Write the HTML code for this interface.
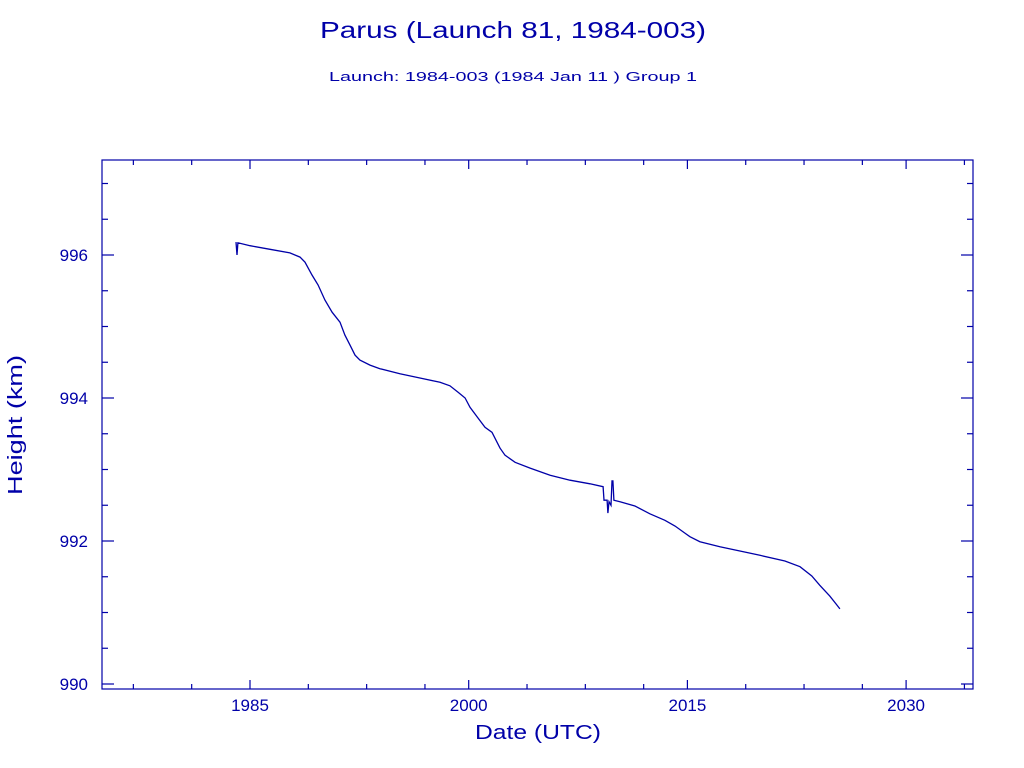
<!DOCTYPE html>
<html><head><meta charset="utf-8"><style>
body{margin:0;background:#fff}
svg{display:block}
text{font-family:"Liberation Sans",sans-serif;fill:#0000a8}
</style></head><body>
<svg id="chart" width="1024" height="768" xmlns="http://www.w3.org/2000/svg">
<text x="513" y="38" text-anchor="middle" font-size="23" textLength="386" lengthAdjust="spacingAndGlyphs">Parus (Launch 81, 1984-003)</text>
<text x="513" y="81" text-anchor="middle" font-size="13" textLength="368" lengthAdjust="spacingAndGlyphs">Launch: 1984-003  (1984 Jan 11 )  Group 1</text>
<rect x="102" y="160" width="871" height="529" fill="none" stroke="#0000a8" stroke-width="1.2"/>
<g id="axes"></g>
<path id="series" fill="none" stroke="#0000a8" stroke-width="1.3"/>
<text x="538" y="739" text-anchor="middle" font-size="20" textLength="126" lengthAdjust="spacingAndGlyphs">Date (UTC)</text>
<text transform="translate(22,425) rotate(-90)" text-anchor="middle" font-size="20" textLength="140" lengthAdjust="spacingAndGlyphs">Height (km)</text>
</svg>
<script>
const years=[1984.04,1984.11,1984.17,1985.00,1986.37,1987.74,1988.43,1988.77,1989.25,1989.67,1990.14,1990.63,1991.17,1991.51,1991.86,1992.20,1992.54,1993.23,1993.91,1995.28,1996.65,1998.03,1998.71,1999.27,1999.75,2000.09,2000.64,2001.12,2001.60,2002.15,2002.49,2003.18,2004.21,2005.58,2006.95,2008.32,2009.22,2009.28,2009.49,2009.55,2009.62,2009.76,2009.83,2009.89,2009.96,2010.38,2011.40,2012.43,2013.46,2014.15,2014.83,2015.17,2015.86,2017.23,2018.60,2019.97,2021.69,2022.72,2023.53,2024.08,2024.77,2025.19,2025.46];
const heights=[996.18,996.00,996.17,996.13,996.08,996.03,995.97,995.90,995.72,995.58,995.37,995.20,995.06,994.88,994.74,994.60,994.53,994.46,994.41,994.34,994.28,994.22,994.17,994.08,994.00,993.87,993.72,993.59,993.52,993.30,993.20,993.10,993.02,992.92,992.85,992.80,992.76,992.57,992.57,992.39,992.55,992.50,992.84,992.84,992.57,992.55,992.49,992.38,992.29,992.21,992.11,992.06,991.99,991.92,991.86,991.80,991.72,991.64,991.51,991.38,991.23,991.12,991.05];
const xMajor=[1985,2000,2015,2030];
const xMinor=[1977,1981,1989,1993,1997,2004,2008,2012,2019,2023,2027,2034];
const yMajor=[990,992,994,996];
const yMinor=[990.5,991,991.5,992.5,993,993.5,994.5,995,995.5,996.5,997];
const X=y=>250+(y-1985)*14.58;
const Y=h=>255+(996-h)*71.5;
const NS="http://www.w3.org/2000/svg";
const g=document.getElementById('axes');
function line(x1,y1,x2,y2,name){const l=document.createElementNS(NS,'line');
l.setAttribute('x1',x1);l.setAttribute('y1',y1);l.setAttribute('x2',x2);l.setAttribute('y2',y2);
l.setAttribute('stroke','#0000a8');l.setAttribute('stroke-width','1.2');


g.appendChild(l);}
function label(x,y,t,anchor,name){const e=document.createElementNS(NS,'text');
e.setAttribute('x',x);e.setAttribute('y',y);e.setAttribute('text-anchor',anchor);e.setAttribute('font-size','17');
e.textContent=t;


g.appendChild(e);}
xMajor.forEach(v=>{const x=X(v);line(x,689,x,680,'x-major-tick');line(x,160,x,169,'x-major-tick');label(x,711,String(v),'middle','x-tick-label');});
xMinor.forEach(v=>{const x=X(v);line(x,689,x,684,'x-minor-tick');line(x,160,x,165,'x-minor-tick');});
yMajor.forEach(v=>{const y=Y(v);line(102,y,114,y,'y-major-tick');line(973,y,961,y,'y-major-tick');label(88,y+6,String(v),'end','y-tick-label');});
yMinor.forEach(v=>{const y=Y(v);if(y<160||y>689)return;line(102,y,108,y,'y-minor-tick');line(973,y,967,y,'y-minor-tick');});
document.getElementById('series').setAttribute('d',years.map((v,i)=>(i?'L':'M')+X(v).toFixed(1)+','+Y(heights[i]).toFixed(1)).join(''));
</script>
</body></html>
